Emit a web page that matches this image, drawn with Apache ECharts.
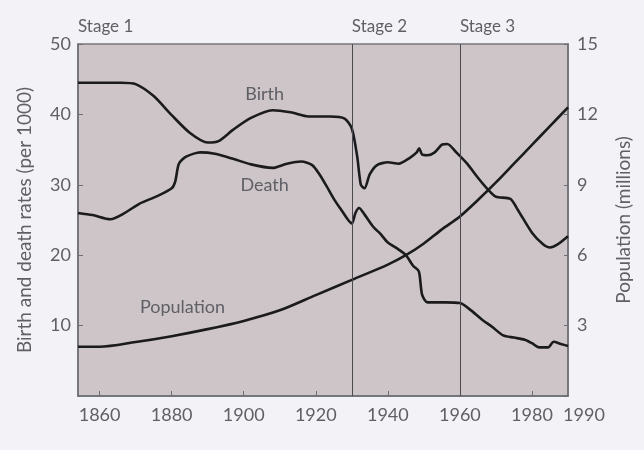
<!DOCTYPE html>
<html>
<head>
<meta charset="utf-8">
<script src="https://cdn.jsdelivr.net/npm/echarts@6/dist/echarts.min.js"></script>
<style>
html,body{margin:0;padding:0;background:#f3f2f6;}
#c{width:644px;height:450px;}
</style>
</head>
<body>
<div id="c"></div>
<script>
// ---- data ----
var birthData = [[1854,44.5],[1860,44.5],[1866,44.5],[1870,44.3],[1875,42.6],[1880,39.9],[1885,37.4],[1890,36.0],[1893,36.2],[1897,37.8],[1902,39.5],[1908,40.6],[1913,40.3],[1918,39.7],[1924,39.7],[1928,39.4],[1930,38.0],[1931.5,34.0],[1932.5,30.0],[1933.5,29.5],[1935,31.5],[1937,32.8],[1940,33.2],[1943,33.0],[1946,33.8],[1948,34.6],[1948.7,35.2],[1949.5,34.3],[1951,34.2],[1953,34.6],[1955,35.7],[1956.5,35.8],[1959,34.6],[1962,33.0],[1965,31.0],[1968,29.2],[1970,28.3],[1974,28.0],[1976,26.5],[1980,23.2],[1983,21.6],[1985,21.1],[1987,21.5],[1990,22.7]];
var deathData = [[1854,26.0],[1858,25.7],[1863,25.1],[1867,26.0],[1871,27.3],[1876,28.4],[1880,29.5],[1881,30.5],[1882,33.0],[1884,34.0],[1888,34.6],[1892,34.4],[1897,33.7],[1902,32.9],[1908,32.4],[1912,33.0],[1916,33.3],[1919,32.8],[1921,31.5],[1923,29.8],[1925,28.0],[1927,26.5],[1930,24.5],[1931,26.0],[1932,26.7],[1933.5,25.8],[1936,24.0],[1938,23.0],[1940,21.8],[1943,20.8],[1945,20.0],[1947,18.5],[1948.6,17.7],[1949.5,14.4],[1951,13.3],[1956,13.3],[1960,13.2],[1963,12.2],[1966,10.9],[1969,9.8],[1972,8.6],[1975,8.3],[1978,8.0],[1980,7.5],[1982,6.9],[1984.5,6.9],[1986,7.7],[1988,7.4],[1990,7.1]];
var populationData = [[1854,2.1],[1860,2.1],[1870,2.3],[1880,2.55],[1890,2.85],[1900,3.2],[1910,3.65],[1920,4.3],[1930,4.95],[1940,5.6],[1945,6.0],[1950,6.5],[1955,7.1],[1960,7.65],[1965,8.35],[1970,9.1],[1975,9.9],[1980,10.7],[1985,11.5],[1990,12.3]];
var xTickLabels = [1860,1880,1900,1920,1940,1960,1980,1990];
var xTicks = [1860,1880,1900,1920,1940,1960,1980];
var stageYears = [1854,1930,1960];
var stageNames = ['Stage 1','Stage 2','Stage 3'];
var seriesLabels = [['Birth',1905.8,42.9],['Death',1905.8,29.9],['Population',1883,12.6]];

var FONT = 'Lato';
var TXT = '#5f5f66';
var chart = echarts.init(document.getElementById('c'));
var option = {
  backgroundColor: '#f3f2f6',
  animation: false,
  grid: {left:78, right:76, top:44, bottom:54, show:true, backgroundColor:'#cdc5c7', borderColor:'#77777d', borderWidth:1.5},
  xAxis: {
    type:'value', min:1854, max:1990,
    axisLine:{show:true, lineStyle:{color:'#6e6e75', width:1.5}},
    axisTick:{show:true, inside:true, length:5, customValues:xTicks, lineStyle:{color:'#6e6e75'}},
    splitLine:{show:false},
    axisLabel:{customValues:xTickLabels, color:TXT, fontFamily:FONT, fontSize:18, margin:10,
      formatter:function(v){ return v===1990 ? '{r|'+v+'}' : String(v); },
      rich:{r:{padding:[0,0,0,32], fontFamily:FONT, fontSize:18, color:TXT}}}
  },
  yAxis: [{
    type:'value', min:0, max:50, interval:10, position:'left',
    name:'Birth and death rates (per 1000)', nameLocation:'middle', nameRotate:90, nameGap:44,
    nameTextStyle:{color:TXT, fontFamily:FONT, fontSize:19},
    axisLine:{show:true, lineStyle:{color:'#6e6e75', width:1.5}},
    axisTick:{show:true, inside:true, length:5, lineStyle:{color:'#6e6e75'}},
    splitLine:{show:false},
    axisLabel:{color:TXT, fontFamily:FONT, fontSize:18, margin:7, showMinLabel:false,
      formatter:function(v){return v===0?'':String(v);}}
  },{
    type:'value', min:0, max:15, interval:3, position:'right',
    name:'Population (millions)', nameLocation:'middle', nameRotate:90, nameGap:46,
    nameTextStyle:{color:TXT, fontFamily:FONT, fontSize:19},
    axisLine:{show:true, lineStyle:{color:'#6e6e75', width:1.5}},
    axisTick:{show:true, inside:true, length:4, lineStyle:{color:'#6e6e75'}},
    splitLine:{show:false},
    axisLabel:{color:TXT, fontFamily:FONT, fontSize:18, margin:9,
      formatter:function(v){return v===0?'':String(v);}}
  }],
  series: [
    {name:'Birth', type:'line', data:birthData, yAxisIndex:0, showSymbol:false, smooth:0.25,
      lineStyle:{color:'#1b1b1d', width:2.6},
      markLine:{silent:true, symbol:'none', label:{show:false},
        lineStyle:{color:'#4a4a50', width:1, type:'solid'},
        data: stageYears.slice(1).map(function(y){return {xAxis:y};})}},
    {name:'Death', type:'line', data:deathData, yAxisIndex:0, showSymbol:false, smooth:0.25,
      lineStyle:{color:'#1b1b1d', width:2.6}},
    {name:'Population', type:'line', data:populationData, yAxisIndex:1, showSymbol:false, smooth:0.3,
      lineStyle:{color:'#1b1b1d', width:2.6}}
  ]
};
chart.setOption(option);

var g = [];
stageYears.forEach(function(y, i){
  var p = chart.convertToPixel({gridIndex:0}, [y, 50]);
  g.push({type:'text', left:p[0], top:p[1]-26, style:{text:stageNames[i], fill:TXT, font:'17px '+FONT}});
});
seriesLabels.forEach(function(s){
  var p = chart.convertToPixel({xAxisIndex:0, yAxisIndex:0}, [s[1], s[2]]);
  g.push({type:'text', x:p[0], y:p[1], style:{text:s[0], fill:TXT, font:'18px '+FONT, align:'center', verticalAlign:'middle'}});
});
chart.setOption({graphic:g});
</script>
</body>
</html>
